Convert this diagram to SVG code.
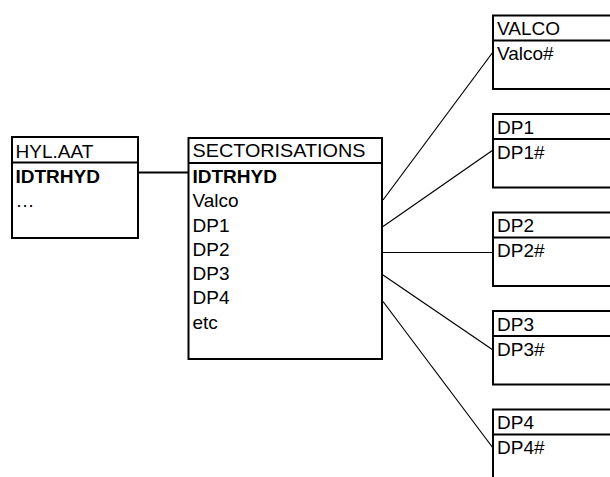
<svg xmlns="http://www.w3.org/2000/svg" width="610" height="477" viewBox="0 0 610 477">
<style>
.box{fill:#fff;stroke:#000;stroke-width:2}
.div{stroke:#000;stroke-width:2}
.t{font-family:"Liberation Sans",Arial,sans-serif;font-size:19px;fill:#000}
.b{font-weight:bold}
.c{stroke:#000;stroke-width:1.2;fill:none}
</style>
<rect width="610" height="477" fill="#fff"/>
<g id="connectors">
<line x1="138" y1="172.5" x2="188.5" y2="172.5" stroke="#000" stroke-width="2"/>
<line class="c" x1="383" y1="200" x2="493" y2="52"/>
<line class="c" x1="383" y1="226.5" x2="493" y2="150"/>
<line class="c" x1="383" y1="252.5" x2="493" y2="252.5"/>
<line class="c" x1="383" y1="275" x2="493" y2="350"/>
<line class="c" x1="383" y1="301.5" x2="493" y2="448"/>
</g>
<g id="hyl">
<rect class="box" x="12" y="137" width="126" height="101"/>
<line class="div" x1="12" y1="162.5" x2="138" y2="162.5"/>
<text class="t" x="15.5" y="157.5">HYL.AAT</text>
<text class="t b" x="15.5" y="182.5">IDTRHYD</text>
<text class="t" x="15.5" y="206.5">…</text>
</g>
<g id="sectorisations">
<rect class="box" x="188.5" y="138" width="193.5" height="221"/>
<line class="div" x1="188.5" y1="163" x2="382" y2="163"/>
<text class="t" x="192.5" y="157" textLength="173" lengthAdjust="spacingAndGlyphs">SECTORISATIONS</text>
<text class="t b" x="192.5" y="183">IDTRHYD</text>
<text class="t" x="192.5" y="207">Valco</text>
<text class="t" x="192.5" y="231.5">DP1</text>
<text class="t" x="192.5" y="255.5">DP2</text>
<text class="t" x="192.5" y="280">DP3</text>
<text class="t" x="192.5" y="304">DP4</text>
<text class="t" x="192.5" y="328.5">etc</text>
</g>
<g id="valco">
<rect class="box" x="493" y="15.5" width="130" height="73.5"/>
<line class="div" x1="493" y1="40.5" x2="623" y2="40.5"/>
<text class="t" x="497" y="35">VALCO</text>
<text class="t" x="497" y="60">Valco#</text>
</g>
<g id="dp1">
<rect class="box" x="493" y="114" width="130" height="73.5"/>
<line class="div" x1="493" y1="139" x2="623" y2="139"/>
<text class="t" x="497" y="133.5">DP1</text>
<text class="t" x="497" y="158.5">DP1#</text>
</g>
<g id="dp2">
<rect class="box" x="493" y="212.5" width="130" height="73.5"/>
<line class="div" x1="493" y1="237.5" x2="623" y2="237.5"/>
<text class="t" x="497" y="232">DP2</text>
<text class="t" x="497" y="257">DP2#</text>
</g>
<g id="dp3">
<rect class="box" x="493" y="311" width="130" height="73.5"/>
<line class="div" x1="493" y1="336" x2="623" y2="336"/>
<text class="t" x="497" y="330.5">DP3</text>
<text class="t" x="497" y="355.5">DP3#</text>
</g>
<g id="dp4">
<rect class="box" x="493" y="409.5" width="130" height="73.5"/>
<line class="div" x1="493" y1="434.5" x2="623" y2="434.5"/>
<text class="t" x="497" y="429">DP4</text>
<text class="t" x="497" y="454">DP4#</text>
</g>
</svg>
